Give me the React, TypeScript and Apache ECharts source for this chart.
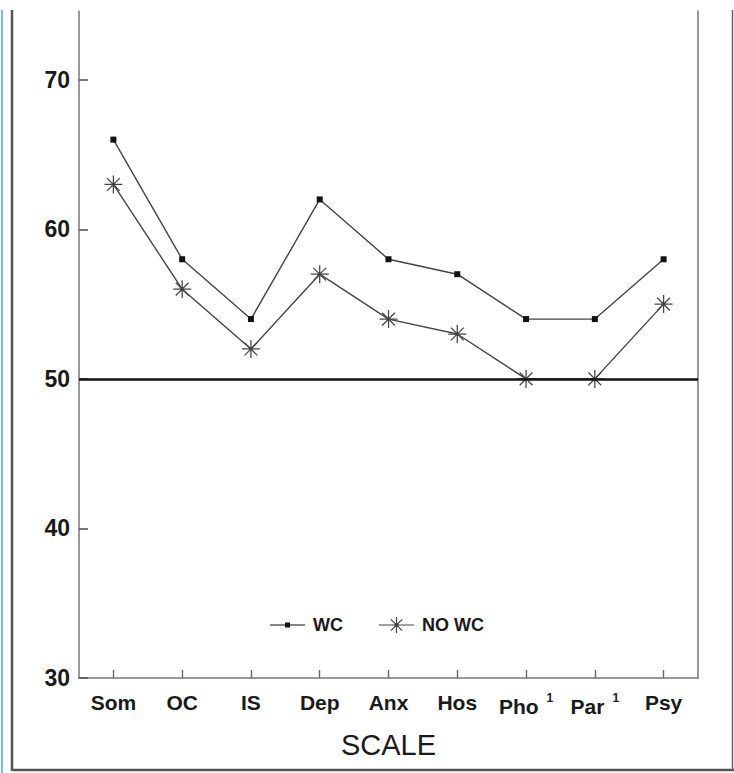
import React, { useEffect, useRef } from "react";
import * as echarts from "echarts";

const categories = ["Som", "OC", "IS", "Dep", "Anx", "Hos", "Pho", "Par", "Psy"];
const superscripted = ["Pho", "Par"];
const wcValues = [66, 58, 54, 62, 58, 57, 54, 54, 58];
const noWcValues = [63, 56, 52, 57, 54, 53, 50, 50, 55];
const yTicks = [30, 40, 50, 60, 70];
const referenceLine = 50;
const seriesNames = ["WC", "NO WC"];
const xAxisTitle = "SCALE";

const ASTERISK =
  "path://M9.3 0 L10.7 0 L10.7 20 L9.3 20 Z " +
  "M0 9.3 L20 9.3 L20 10.7 L0 10.7 Z " +
  "M2.44 3.42 L3.42 2.44 L17.56 16.58 L16.58 17.56 Z " +
  "M16.58 2.44 L17.56 3.42 L3.42 17.56 L2.44 16.58 Z " +
  "M8 8 L12 8 L12 12 L8 12 Z";

const LEGEND_WC = "path://M0 1.9 L35 1.9 L35 3.1 L0 3.1 Z M15 0 L20 0 L20 5 L15 5 Z";
const LEGEND_NOWC =
  "path://M0 7.4 L35 7.4 L35 8.6 L0 8.6 Z " +
  "M16.9 0 L18.1 0 L18.1 16 L16.9 16 Z " +
  "M11.42 2.77 L12.26 1.92 L23.58 13.24 L22.74 14.09 Z " +
  "M22.74 1.92 L23.58 2.77 L12.26 14.09 L11.42 13.24 Z " +
  "M15.5 6 L19.5 6 L19.5 10 L15.5 10 Z";

export default function App() {
  const ref = useRef<HTMLDivElement>(null);

  useEffect(() => {
    if (!ref.current) return;
    const chart = echarts.init(ref.current, null, { renderer: "svg" });
    const font = "'Liberation Sans', Arial, sans-serif";
    const textColor = "#1a1a1a";
    chart.setOption({
      animation: false,
      backgroundColor: "#ffffff",
      grid: { left: 79, right: 36, top: 11, bottom: 95, containLabel: false },
      legend: {
        left: 265,
        top: 611,
        itemWidth: 35,
        itemHeight: 16,
        itemGap: 36,
        symbolKeepAspect: true,
        textStyle: { fontFamily: font, fontSize: 18, fontWeight: "bold", color: textColor, padding: [0, 0, 0, 3] },
        data: [
          { name: seriesNames[0], icon: LEGEND_WC },
          { name: seriesNames[1], icon: LEGEND_NOWC },
        ],
      },
      xAxis: {
        type: "category",
        data: categories,
        boundaryGap: true,
        name: xAxisTitle,
        nameLocation: "middle",
        nameGap: 52,
        nameTextStyle: { fontFamily: font, fontSize: 29, color: textColor },
        axisLine: { show: true, lineStyle: { color: "#777", width: 1.5 } },
        axisTick: { show: true, inside: true, alignWithLabel: true, interval: 0, length: 8, lineStyle: { color: "#666", width: 1.4 } },
        axisLabel: {
          interval: 0,
          margin: 14,
          fontFamily: font,
          fontSize: 21,
          fontWeight: "bold",
          color: textColor,
          formatter: (v: string) => (superscripted.includes(v) ? `${v}{sup|1}` : v),
          rich: {
            sup: { fontFamily: font, fontSize: 12, fontWeight: "bold", color: textColor, padding: [0, 0, 16, 8] },
          },
        },
        splitLine: { show: false },
      },
      yAxis: [
        {
          type: "value",
          min: 30,
          max: 74.6,
          interval: 10,
          position: "left",
          axisLine: { show: true, lineStyle: { color: "#777", width: 1.5 } },
          axisTick: { show: true, inside: true, length: 9, lineStyle: { color: "#555", width: 1.6 } },
          axisLabel: {
            margin: 9,
            fontFamily: font,
            fontSize: 23,
            fontWeight: "bold",
            color: textColor,
            showMaxLabel: false,
            formatter: (v: number) => (yTicks.includes(v) ? String(v) : ""),
          },
          splitLine: { show: false },
        },
        {
          type: "value",
          min: 30,
          max: 74.6,
          position: "right",
          axisLine: { show: true, lineStyle: { color: "#777", width: 1.5 } },
          axisTick: { show: false },
          axisLabel: { show: false },
          splitLine: { show: false },
        },
      ],
      series: [
        {
          name: seriesNames[0],
          type: "line",
          data: wcValues,
          symbol: "rect",
          symbolSize: 6,
          itemStyle: { color: "#111" },
          lineStyle: { color: "#444", width: 1.4 },
          markLine: {
            silent: true,
            symbol: "none",
            label: { show: false },
            lineStyle: { color: "#111", width: 2.5, type: "solid" },
            data: [{ yAxis: referenceLine }],
          },
        },
        {
          name: seriesNames[1],
          type: "line",
          data: noWcValues,
          symbol: ASTERISK,
          symbolSize: 18,
          itemStyle: { color: "#444" },
          lineStyle: { color: "#444", width: 1.4 },
        },
      ],
      graphic: [
        { type: "line", shape: { x1: 2, y1: 10, x2: 2, y2: 773 }, style: { stroke: "#5b9bd5", lineWidth: 1.5 } },
        { type: "line", shape: { x1: 12, y1: 10, x2: 12, y2: 771 }, style: { stroke: "#555", lineWidth: 2.5 } },
        { type: "line", shape: { x1: 12, y1: 770, x2: 734, y2: 770 }, style: { stroke: "#555", lineWidth: 2.5 } },
        { type: "line", shape: { x1: 732.5, y1: 10, x2: 732.5, y2: 771 }, style: { stroke: "#666", lineWidth: 1.5 } },
      ],
    });
    return () => chart.dispose();
  }, []);

  return <div ref={ref} style={{ position: "fixed", left: 0, top: 0, width: 734, height: 773 }} />;
}
